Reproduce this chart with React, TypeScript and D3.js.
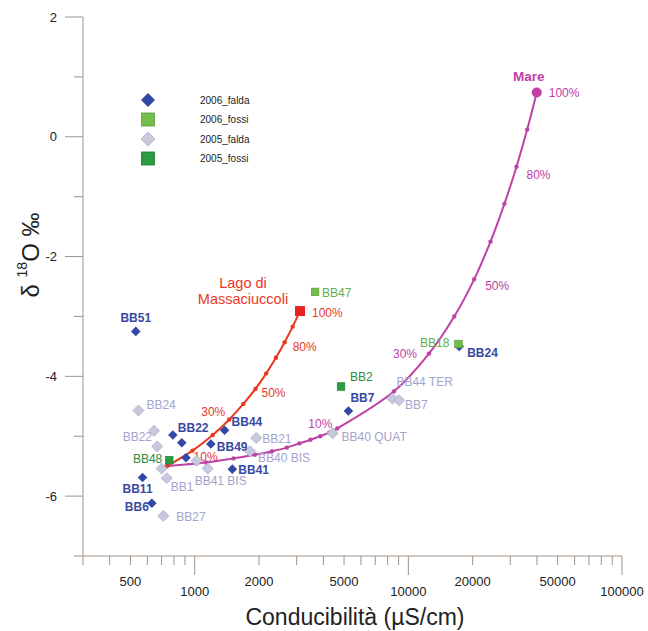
import * as d3 from "d3";

// 2006_falda (dark blue diamonds)
const falda2006 = [
  { id: "BB51", cond: 530, d18O: -3.25 },
  { id: "BB22", cond: 790, d18O: -4.98 },
  { id: "", cond: 870, d18O: -5.11 },
  { id: "", cond: 910, d18O: -5.36 },
  { id: "BB44", cond: 1380, d18O: -4.9 },
  { id: "BB49", cond: 1190, d18O: -5.13 },
  { id: "BB41", cond: 1500, d18O: -5.55 },
  { id: "BB11", cond: 570, d18O: -5.69 },
  { id: "BB6", cond: 630, d18O: -6.12 },
  { id: "BB7", cond: 5240, d18O: -4.58 },
  { id: "BB24", cond: 17300, d18O: -3.5 },
];

// 2005_falda (light lavender diamonds)
const falda2005 = [
  { id: "BB24", cond: 545, d18O: -4.57 },
  { id: "BB22", cond: 645, d18O: -4.91 },
  { id: "", cond: 668, d18O: -5.17 },
  { id: "", cond: 700, d18O: -5.54 },
  { id: "BB1", cond: 740, d18O: -5.7 },
  { id: "", cond: 1020, d18O: -5.41 },
  { id: "BB41 BIS", cond: 1150, d18O: -5.54 },
  { id: "BB21", cond: 1940, d18O: -5.03 },
  { id: "BB40 BIS", cond: 1815, d18O: -5.25 },
  { id: "BB27", cond: 713, d18O: -6.33 },
  { id: "BB40 QUAT", cond: 4420, d18O: -4.95 },
  { id: "BB44 TER", cond: 8420, d18O: -4.37 },
  { id: "BB7", cond: 9050, d18O: -4.4 },
];

// 2006_fossi / 2005_fossi (squares)
const fossi2006 = [
  { id: "BB47", cond: 3660, d18O: -2.59 },
  { id: "BB18", cond: 17160, d18O: -3.46 },
];
const fossi2005 = [
  { id: "BB2", cond: 4840, d18O: -4.17 },
  { id: "BB48", cond: 760, d18O: -5.4 },
];

// mixing line towards Lago di Massaciuccoli
const lakePct = [0, 10, 20, 30, 40, 50, 60, 70, 80, 90, 100];
const lakeCond = [740, 977, 1214, 1451, 1688, 1925, 2162, 2399, 2636, 2873, 3110];
const lakeD18O = [-5.5, -5.24, -4.98, -4.72, -4.46, -4.21, -3.95, -3.69, -3.43, -3.17, -2.91];

// mixing line towards Mare
const seaPct = [0, 1, 2, 3, 4, 5, 6, 7, 8, 9, 10, 20, 30, 40, 50, 60, 70, 80, 90, 100];
const seaCond = [740, 1130, 1520, 1910, 2300, 2700, 3090, 3480, 3870, 4260, 4650, 8570, 12490, 16400, 20320, 24240, 28150, 32070, 35980, 39900];
const seaD18O = [-5.5, -5.44, -5.37, -5.31, -5.25, -5.19, -5.12, -5.06, -5.0, -4.94, -4.87, -4.25, -3.62, -3.0, -2.38, -1.75, -1.12, -0.5, 0.12, 0.74];

const lakePctLabels = [10, 30, 50, 80, 100];
const seaPctLabels = [10, 30, 50, 80, 100];

const xTickLabels = [500, 1000, 2000, 5000, 10000, 20000, 50000, 100000];
const yTickLabels = [2, 0, -2, -4, -6];
const legendItems = ["2006_falda", "2006_fossi", "2005_falda", "2005_fossi"];

// label placement (dx, dy, anchor) — layout only
const labelPos: Record<string, [number, number, string]> = {
  "a:BB51": [0, -13, "middle"],
  "a:BB22": [5, -7, "start"],
  "a:BB44": [7, -8, "start"],
  "a:BB49": [6, 3, "start"],
  "a:BB41": [6, 1, "start"],
  "a:BB11": [-5, 11, "middle"],
  "a:BB6": [-3, 4, "end"],
  "a:BB7": [2, -13, "start"],
  "a:BB24": [8, 7, "start"],
  "b:BB24": [8, -5, "start"],
  "b:BB22": [-2, 6, "end"],
  "b:BB1": [4, 9, "start"],
  "b:BB41 BIS": [-13, 12, "start"],
  "b:BB21": [6, 1, "start"],
  "b:BB40 BIS": [8, 7, "start"],
  "b:BB27": [13, 1, "start"],
  "b:BB40 QUAT": [9, 4, "start"],
  "b:BB44 TER": [4, -16, "start"],
  "b:BB7": [6, 5, "start"],
  "c:BB47": [7, 1, "start"],
  "c:BB18": [-9, -1, "end"],
  "d:BB2": [9, -10, "start"],
  "d:BB48": [-7, -1, "end"],
};
const lakeLabelPos: Record<number, [number, number, string]> = {
  10: [1, 6.5, "start"],
  30: [-4, -7, "end"],
  50: [6, 4.5, "start"],
  80: [8, 5, "start"],
  100: [12, 2, "start"],
};
const seaLabelPos: Record<number, [number, number, string]> = {
  10: [-5, -4, "end"],
  30: [-12, 0, "end"],
  50: [11, 7, "start"],
  80: [10, 8, "start"],
  100: [12, 1, "start"],
};

const W = 648;
const H = 631;
const FONT = "'Liberation Sans', Arial, sans-serif";

const BLUE = "#3348a6";
const BLUE_TXT = "#3a4aa2";
const LAV = "#c9c9de";
const LAV_STROKE = "#a9a9c8";
const LAV_TXT = "#a3a3cc";
const LGREEN = "#74bf4a";
const LGREEN_TXT = "#62b048";
const DGREEN = "#2b9c44";
const DGREEN_TXT = "#2a8c3c";
const RED = "#e8381e";
const MAG = "#c041a6";
const AXIS = "#a29288";

const diamond = (r: number) => `M0,${-r}L${r},0L0,${r}L${-r},0Z`;

export default function App() {
  const x = d3.scaleLog().domain([300, 100000]).range([83, 622]);
  const y = d3.scaleLinear().domain([-7, 2]).range([556, 17]);

  const line = d3
    .line<[number, number]>()
    .x((d) => x(d[0]))
    .y((d) => y(d[1]))
    .curve(d3.curveCatmullRom.alpha(0.5));

  const lakePts = lakeCond.map((c, i) => [c, lakeD18O[i]] as [number, number]);
  const seaPts = seaCond.map((c, i) => [c, seaD18O[i]] as [number, number]);

  const xTicks = x.ticks();
  const isDecade = (v: number) => Math.abs(Math.log10(v) - Math.round(Math.log10(v))) < 1e-9;
  const yTicks = d3.range(-7, 3, 1);

  const pointLabel = (key: string, px: number, py: number, text: string, fill: string, bold = false) => {
    const p = labelPos[key];
    if (!p || !text) return null;
    return (
      <text
        key={"l" + key}
        x={px + p[0]}
        y={py + p[1]}
        textAnchor={p[2] as any}
        dominantBaseline="central"
        fontSize={12}
        fontWeight={bold ? "bold" : "normal"}
        fill={fill}
      >
        {text}
      </text>
    );
  };

  const lakeEnd = lakePts[lakePts.length - 1];
  const seaEnd = seaPts[seaPts.length - 1];

  return (
    <div style={{ position: "absolute", left: 0, top: 0 }}>
      <svg width={W} height={H} fontFamily={FONT} style={{ display: "block", background: "#fff" }}>
        {/* axes */}
        <g stroke={AXIS} strokeWidth={1} fill="none">
          <line x1={83} x2={83} y1={y(2)} y2={y(-7)} />
          <line x1={x(300)} x2={x(100000)} y1={556} y2={556} />
          {yTicks.map((v) => (
            <line key={"yt" + v} x1={v % 2 === 0 ? 65 : 74} x2={83} y1={y(v)} y2={y(v)} />
          ))}
          {xTicks.map((v) => (
            <line key={"xt" + v} x1={x(v)} x2={x(v)} y1={556} y2={isDecade(v) ? 575 : 565} />
          ))}
        </g>
        {yTickLabels.map((v) => (
          <text key={"yl" + v} x={57} y={y(v)} textAnchor="end" dominantBaseline="central" fontSize={13} fill="#222">
            {v}
          </text>
        ))}
        {xTickLabels.map((v) => (
          <text
            key={"xl" + v}
            x={x(v)}
            y={isDecade(v) ? 591 : 581}
            textAnchor="middle"
            dominantBaseline="central"
            fontSize={13}
            fill="#222"
          >
            {v}
          </text>
        ))}
        <text x={355} y={617} textAnchor="middle" dominantBaseline="central" fontSize={23} fill="#222">
          Conducibilità (µS/cm)
        </text>
        <text
          transform="translate(30,255) rotate(-90)"
          textAnchor="middle"
          dominantBaseline="central"
          fontSize={24}
          fill="#222"
        >
          δ{" "}
          <tspan fontSize={14} dy={-8}>
            18
          </tspan>
          <tspan dy={8}>O ‰</tspan>
        </text>

        {/* mixing lines */}
        <path d={line(seaPts) ?? ""} fill="none" stroke={MAG} strokeWidth={2} />
        {seaPts.map((d, i) => (
          <circle key={"sm" + i} cx={x(d[0])} cy={y(d[1])} r={2.2} fill={MAG} />
        ))}
        <circle cx={x(seaEnd[0])} cy={y(seaEnd[1])} r={5} fill={MAG} />
        <path d={line(lakePts) ?? ""} fill="none" stroke={RED} strokeWidth={2} />
        {lakePts.map((d, i) => (
          <circle key={"lm" + i} cx={x(d[0])} cy={y(d[1])} r={2.2} fill={RED} />
        ))}
        <rect x={x(lakeEnd[0]) - 5} y={y(lakeEnd[1]) - 5} width={10} height={10} fill="#e82420" />

        {lakePctLabels.map((p) => {
          const i = lakePct.indexOf(p);
          const lp = lakeLabelPos[p];
          return (
            <text
              key={"lp" + p}
              x={x(lakeCond[i]) + lp[0]}
              y={y(lakeD18O[i]) + lp[1]}
              textAnchor={lp[2] as any}
              dominantBaseline="central"
              fontSize={12}
              fill={RED}
            >
              {p}%
            </text>
          );
        })}
        {seaPctLabels.map((p) => {
          const i = seaPct.indexOf(p);
          const lp = seaLabelPos[p];
          return (
            <text
              key={"sp" + p}
              x={x(seaCond[i]) + lp[0]}
              y={y(seaD18O[i]) + lp[1]}
              textAnchor={lp[2] as any}
              dominantBaseline="central"
              fontSize={12}
              fill={MAG}
            >
              {p}%
            </text>
          );
        })}
        <text
          x={x(seaEnd[0]) - 8}
          y={y(seaEnd[1]) - 16}
          textAnchor="middle"
          dominantBaseline="central"
          fontSize={13.5}
          fontWeight="bold"
          fill={MAG}
        >
          Mare
        </text>
        <text textAnchor="middle" fontSize={14.5} fill={RED}>
          <tspan x={x(lakeEnd[0]) - 57} y={y(lakeEnd[1]) - 23}>
            Lago di
          </tspan>
          <tspan x={x(lakeEnd[0]) - 57} y={y(lakeEnd[1]) - 7}>
            Massaciuccoli
          </tspan>
        </text>

        {/* points */}
        {falda2006.map((d, i) => (
          <path
            key={"a" + i}
            d={diamond(4.8)}
            transform={`translate(${x(d.cond)},${y(d.d18O)})`}
            fill={BLUE}
          />
        ))}
        {falda2005.map((d, i) => (
          <path
            key={"b" + i}
            d={diamond(5.5)}
            transform={`translate(${x(d.cond)},${y(d.d18O)})`}
            fill={LAV}
            stroke={LAV_STROKE}
            strokeWidth={0.8}
          />
        ))}
        {fossi2006.map((d, i) => (
          <rect
            key={"c" + i}
            x={x(d.cond) - 3.8}
            y={y(d.d18O) - 3.8}
            width={7.6}
            height={7.6}
            fill={LGREEN}
            stroke="#4f9a35"
            strokeWidth={0.6}
          />
        ))}
        {fossi2005.map((d, i) => (
          <rect
            key={"d" + i}
            x={x(d.cond) - 3.8}
            y={y(d.d18O) - 3.8}
            width={7.6}
            height={7.6}
            fill={DGREEN}
            stroke="#1f7a30"
            strokeWidth={0.6}
          />
        ))}

        {/* point labels */}
        {falda2006.map((d) => pointLabel("a:" + d.id, x(d.cond), y(d.d18O), d.id, BLUE_TXT, true))}
        {falda2005.map((d) => pointLabel("b:" + d.id, x(d.cond), y(d.d18O), d.id, LAV_TXT))}
        {fossi2006.map((d) => pointLabel("c:" + d.id, x(d.cond), y(d.d18O), d.id, LGREEN_TXT))}
        {fossi2005.map((d) => pointLabel("d:" + d.id, x(d.cond), y(d.d18O), d.id, DGREEN_TXT))}

        {/* legend */}
        {legendItems.map((name, i) => {
          const ly = 100 + i * 19.5;
          let mark;
          if (i === 0) mark = <path d={diamond(7)} transform={`translate(148,${ly})`} fill={BLUE} />;
          else if (i === 2)
            mark = (
              <path d={diamond(7)} transform={`translate(148,${ly})`} fill={LAV} stroke={LAV_STROKE} strokeWidth={0.8} />
            );
          else
            mark = (
              <rect
                x={141.5}
                y={ly - 6.5}
                width={13}
                height={13}
                fill={i === 1 ? LGREEN : DGREEN}
                stroke={i === 1 ? "#5a9a3a" : "#1f7a30"}
                strokeWidth={0.8}
              />
            );
          return (
            <g key={name}>
              {mark}
              <text x={200} y={ly} dominantBaseline="central" fontSize={10} fill="#222">
                {name}
              </text>
            </g>
          );
        })}
      </svg>
    </div>
  );
}
